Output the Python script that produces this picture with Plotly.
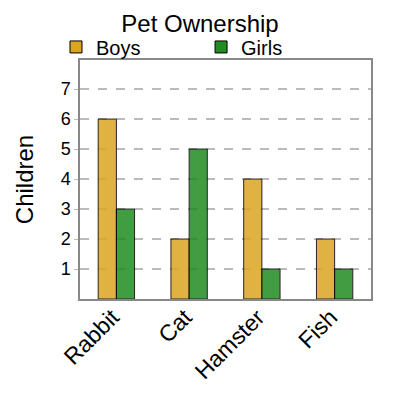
import plotly.graph_objects as go

pets = ["Rabbit", "Cat", "Hamster", "Fish"]
boys = [6, 2, 4, 2]
girls = [3, 5, 1, 1]
y_ticks = [1, 2, 3, 4, 5, 6, 7]

fig = go.Figure()
fig.add_trace(go.Bar(x=pets, y=boys, name="Boys", legend="legend",
                     marker=dict(color="#DAA520", opacity=0.85,
                                 line=dict(color="#000000", width=1))))
fig.add_trace(go.Bar(x=pets, y=girls, name="Girls", legend="legend2",
                     marker=dict(color="#228B22", opacity=0.85,
                                 line=dict(color="#000000", width=1))))

# legend style shared by both entries
leg = dict(orientation="h", xanchor="left", y=0.973, yanchor="bottom",
           font=dict(size=20), bgcolor="rgba(0,0,0,0)")

fig.update_layout(
    width=400, height=400,
    margin=dict(l=72, r=37, t=52, b=109),
    paper_bgcolor="white", plot_bgcolor="white",
    font=dict(family="Liberation Sans, Arial", color="#000000"),
    title=dict(text="Pet Ownership", xref="container", yref="container",
               x=0.48, xanchor="center", y=0.96, yanchor="middle",
               font=dict(size=24)),
    barmode="group", bargap=0.5, bargroupgap=0,
    showlegend=True,
    legend=dict(leg, x=-0.0825),
    legend2=dict(leg, x=0.416),
)
fig.update_xaxes(tickangle=-45, tickfont=dict(size=23), showline=True, linecolor="#888888",
                 linewidth=1.5, mirror=True, ticks="", automargin=False,
                 ticklabelstandoff=-6, ticklabelshift=-4)
fig.update_yaxes(range=[0, 7.97], tickvals=y_ticks, tickfont=dict(size=18),
                 title=dict(text="Children", font=dict(size=24), standoff=20),
                 showgrid=True, gridcolor="#BBBBBB", griddash="dash", gridwidth=1.5,
                 showline=True, linecolor="#888888", linewidth=1.5, mirror=True,
                 zeroline=False, ticks="outside", ticklen=4, tickcolor="#BBBBBB",
                 automargin=False)

fig.write_html("out.html")
